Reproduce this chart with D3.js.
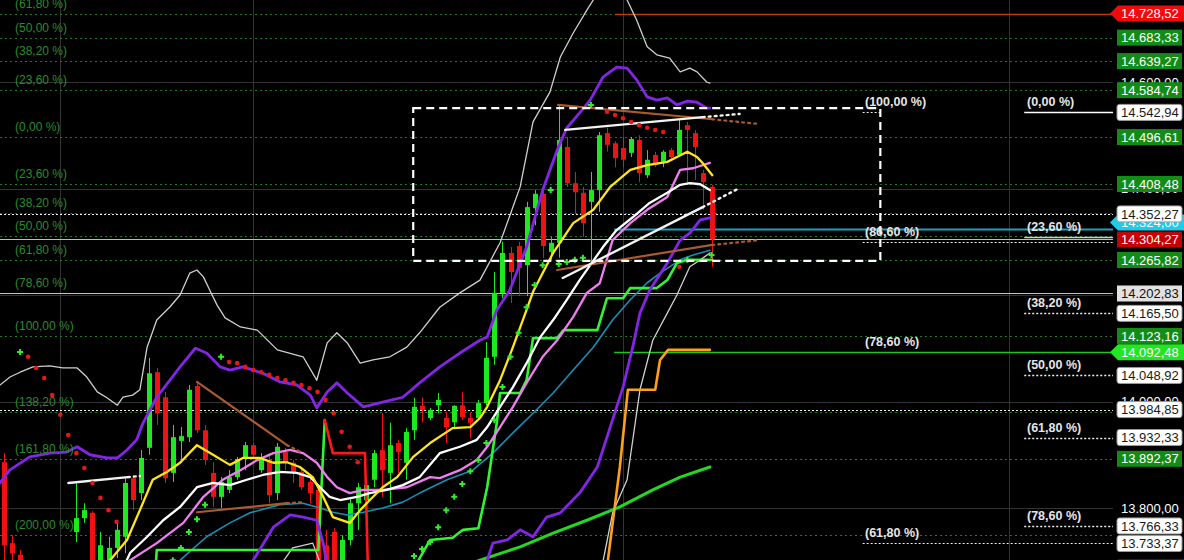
<!DOCTYPE html>
<html><head><meta charset="utf-8">
<script src="https://cdn.jsdelivr.net/npm/d3@7"></script>
<style>html,body{margin:0;padding:0;background:#000;overflow:hidden}svg{display:block}text{font-family:"Liberation Sans",Arial,sans-serif}</style>
</head><body><svg id="c" width="1184" height="560"></svg>
<script>
// ---------- DATA ----------
const opens  = [13886,13734,13712,13655,13627,13605,13618,13631,13646,13755,13781,13791,13684,13674,13725,13746,13856,13828,13913,14055,14008,13866,13926,13933,14029,13946,13866,13821,13834,13858,13894,13918,13871,13890,13828,13905,13885,13868,13849,13834,13730,13755,13627,13740,13809,13815,13853,13909,13866,13922,13885,13946,13992,13969,13993,13969,13961,13993,13969,13969,13997,14084,14204,14279,14292,14256,14363,14390,14281,14298,14478,14410,14392,14375,14397,14504,14485,14476,14467,14491,14425,14463,14450,14472,14463,14519,14504,14429,14403];
const highs  = [13903,13749,13721,13674,13646,13627,13637,13655,13702,13847,13809,13794,13755,13746,13777,13856,13862,13909,14082,14063,14018,13956,13952,14031,14035,13956,13886,13858,13871,13896,13924,13922,13903,13903,13922,13913,13890,13875,13856,13839,13759,13762,13749,13819,13847,13856,13909,13978,13960,13928,13950,14007,14007,13988,14016,13980,13993,14018,13980,14003,14112,14243,14300,14290,14300,14375,14397,14397,14309,14557,14497,14431,14403,14431,14506,14514,14489,14497,14497,14500,14472,14469,14472,14476,14529,14525,14510,14435,14407];
const lows   = [13693,13693,13646,13608,13580,13571,13580,13599,13627,13736,13772,13665,13674,13665,13706,13715,13796,13815,13900,13956,13847,13849,13885,13924,13941,13881,13802,13800,13828,13853,13871,13896,13866,13809,13815,13871,13847,13834,13809,13627,13608,13627,13608,13730,13759,13796,13839,13821,13809,13866,13853,13928,13961,13965,13978,13922,13952,13965,13931,13965,13993,14069,14194,14185,14198,14198,14331,14270,14266,14270,14403,14354,14309,14262,14356,14469,14440,14440,14459,14412,14420,14440,14440,14454,14459,14407,14416,14360,14253];
const closes = [13730,13715,13674,13627,13599,13618,13627,13646,13684,13781,13796,13684,13730,13725,13759,13847,13815,13894,14053,13978,13856,13933,13935,14022,13946,13890,13821,13849,13858,13892,13918,13900,13894,13824,13915,13885,13866,13839,13828,13665,13627,13665,13740,13809,13839,13843,13903,13871,13918,13905,13943,13990,13984,13984,14003,13952,13992,13971,13960,13997,14082,14204,14279,14243,14251,14365,14390,14292,14298,14491,14410,14393,14335,14397,14500,14482,14457,14454,14493,14429,14454,14444,14469,14459,14510,14510,14478,14412,14304.27];

// indicator lines: [bar index, price]
const bbUpper2 = [[-0.5,14031],[0.75,14046],[2,14055],[3.6,14065],[5.7,14067],[7.3,14063],[9.1,14063],[10.3,14046],[11.6,14018],[12.8,14007],[14.1,13993],[14.8,14008],[16,14012],[16.9,14022],[17.8,14102],[19,14153],[20.6,14177],[21.9,14200],[23.1,14241],[24,14247],[24.8,14234],[25.6,14209],[26.5,14181],[27.5,14157],[29.4,14140],[31.5,14134],[34,14097],[37.2,14084],[38.9,14040],[40.2,14110],[41.4,14129],[42.7,14110],[44.3,14072],[45.9,14078],[48,14084],[50.1,14102],[51.7,14129],[54.2,14177],[56.7,14204],[59.2,14228],[61.7,14298],[64.2,14403],[65.8,14525],[67.9,14581],[69.2,14647],[70.8,14692],[72.5,14735],[73.3,14754],[74.1,14782],[76.6,14782],[77.5,14754],[78.7,14716],[80,14666],[81.2,14651],[82.8,14645],[84.1,14619],[85.3,14626],[86.2,14619],[87.4,14600],[87.8,14598]];
const bbLower2a = [[33.1,13665],[35.9,13725],[38.4,13734],[39.9,13674]];
const bbLower2b = [[73.8,13646],[75.7,13791],[77.5,13853],[79.1,14022],[80.7,14115],[82.5,14166],[83.7,14200],[85.3,14253],[86.6,14266],[87.8,14279]];
const bbUpper1 = [[-0.5,13847],[0.7,13871],[3.2,13896],[5.7,13903],[7.8,13905],[9.1,13915],[10.7,13900],[12.8,13894],[14.1,13894],[15.3,13909],[16.5,13928],[17.3,13960],[19,14008],[21.9,14065],[23.8,14100],[25.2,14091],[26.9,14065],[28.1,14059],[29.7,14065],[32.2,14053],[34.3,14037],[36.4,14031],[38.1,14012],[38.9,13988],[40.2,14018],[41.4,14035],[42.7,14016],[44.7,13990],[47.1,13999],[49.6,14008],[51.7,14035],[54.2,14065],[56.7,14091],[59.2,14115],[60.1,14121],[61.3,14172],[62.9,14209],[65,14290],[67,14397],[68.8,14472],[70,14514],[71.6,14542],[72.9,14566],[74.5,14609],[76.2,14628],[77.5,14626],[78.7,14604],[80,14572],[81.2,14566],[82.5,14570],[83.7,14557],[85,14564],[86.2,14562],[87.4,14551],[87.8,14551]];
const bbLower1a = [[30,13665],[31,13702],[33.5,13764],[35.6,13787],[37.2,13783],[38.9,13777],[39.7,13734],[40.5,13665]];
const bbLower1b = [[59.2,13674],[60.1,13702],[60.8,13734],[62.6,13740],[64.2,13759],[65.8,13746],[67.5,13783],[69.2,13791],[71.6,13828],[73.8,13877],[75.4,13952],[77,14027],[78.2,14102],[79.1,14166],[80.3,14209],[82.5,14260],[84.1,14303],[85.3,14316],[86.6,14341],[87.8,14345]];
const maYellow = [[13.2,13702],[15.3,13740],[16.9,13796],[18.5,13853],[20.3,13868],[21.9,13885],[24,13918],[26,13900],[28.1,13881],[29.7,13894],[31.8,13894],[33.5,13885],[35.2,13886],[36.8,13877],[38.4,13858],[39.7,13821],[40.9,13783],[43,13772],[44.3,13796],[45.5,13815],[47.1,13839],[48.9,13858],[50.9,13896],[53,13922],[55.8,13950],[58,13952],[59.2,13969],[60.1,13990],[61.7,14040],[63.3,14102],[65,14172],[65.8,14206],[68.3,14279],[70.8,14335],[73.3,14360],[75.4,14403],[77.9,14435],[80,14444],[82.5,14450],[83.7,14459],[85,14469],[86.2,14459],[86.9,14448],[88.1,14425]];
const maWhite = [[14.4,13674],[15.7,13716],[17.8,13746],[19.8,13777],[21.9,13802],[24,13839],[26,13847],[28.1,13843],[30.2,13853],[32.2,13862],[34.3,13868],[36.4,13866],[38.1,13858],[39.3,13839],[40.5,13821],[41.8,13815],[43.9,13821],[45.5,13828],[47.6,13834],[49.6,13843],[51.7,13858],[54.2,13903],[56.7,13915],[58.8,13928],[60.1,13952],[61.7,13990],[63.3,14027],[65,14072],[66.7,14121],[68.3,14153],[70,14191],[71.6,14228],[74.5,14290],[76.2,14322],[78.2,14346],[80.3,14373],[82.5,14392],[84.1,14407],[85.3,14410],[86.6,14408],[87.8,14397]];
const maPink = [[15.7,13702],[19,13734],[22.3,13772],[24.8,13821],[27.2,13853],[29.4,13871],[31.5,13890],[33.5,13903],[35.6,13909],[37.2,13903],[38.9,13885],[40.2,13858],[41.4,13839],[43,13828],[44.7,13834],[47.1,13834],[50.1,13839],[53,13858],[54.2,13856],[56.7,13871],[58.8,13890],[60.1,13915],[61.7,13952],[63.3,13990],[65,14035],[67,14084],[68.8,14115],[70.8,14159],[72.5,14204],[74.1,14222],[75.7,14303],[77.9,14335],[80,14360],[82.5,14384],[84.1,14435],[85.7,14438],[87.8,14448]];
const maTeal = [[20.6,13674],[21.9,13702],[25.2,13746],[28.1,13772],[30.6,13791],[34.3,13806],[37.2,13809],[39.3,13800],[40.9,13792],[42.7,13787],[44.7,13792],[47.1,13800],[49.6,13811],[51.7,13828],[55.1,13853],[58.3,13871],[60.8,13903],[63.3,13941],[65.8,13978],[68.3,14016],[70.8,14059],[73.3,14102],[75.7,14153],[77.9,14191],[80,14223],[81.6,14241],[84.1,14266],[85.7,14275],[87.8,14284]];
const maLongGreen = [[54.2,13674],[59.2,13702],[64.2,13727],[68.3,13753],[72.5,13777],[76.6,13802],[80.7,13834],[84.1,13858],[87.8,13877]];
const stopGreenA = [[18.8,13674],[19,13721],[39.1,13721],[39.9,13965]];
const stopRed = [[39.9,13965],[40.9,13903],[44.9,13903],[45.3,13665]];
const stopGreenB = [[50.5,13665],[51.7,13706],[53,13740],[55.8,13744],[57.1,13759],[59,13762],[60.1,13839],[61.3,13960],[61.7,14016],[64.2,14016],[65,14040],[65.8,14119],[68.8,14119],[69.6,14134],[73.8,14134],[75,14194],[77,14194],[77.9,14213],[81.2,14213],[82.5,14228],[83.7,14260],[85,14266],[88.1,14266]];
const stopOrange = [[74.8,13665],[76.6,13877],[77.6,14022],[81,14022],[81.6,14078],[82.6,14097],[87.8,14097]];

// trend lines: solid part and dotted extension
const trendBrown = [
  {solid:[[24,14037],[35.2,13918]], dot:[[35.2,13918],[37.2,13903]]},
  {solid:[[24,13792],[35.2,13809]], dot:[[35.2,13809],[37.2,13811]]},
  {solid:[[68.9,14557],[88.1,14530]], dot:[[88.1,14530],[94,14521]]},
  {solid:[[68.8,14247],[88.1,14294]], dot:[[88.1,14294],[94,14303]]}
];
const trendWhite = [
  {solid:[[8,13847],[15.4,13858]], dot:[[15.4,13858],[16.9,13860]]},
  {solid:[[69.8,14510],[86.9,14534]], dot:[[86.9,14534],[91.5,14540]]},
  {solid:[[69.5,14232],[86.9,14365]], dot:[[86.9,14365],[91.5,14401]]}
];

// parabolic SAR dots
const sarRed = [[3,14084],[4,14063],[5,14044],[6,14012],[7,13975],[8,13937],[9,13903],[10,13875],[11,13847],[12,13819],[13,13796],[14,13774],
  [28,14074],[29,14072],[30,14065],[31,14059],[32,14055],[33,14050],[34,14044],[35,14040],[36,14035],[37,14031],[38,14025],[39,14018],[40,14003],[41,13978],[42,13943],[43,13915],[44,13886],
  [75,14544],[76,14538],[77,14532],[78,14525],[79,14519],[80,14514],[81,14510],[82,14506],[84,14253]];
const sarGreen = [[2,14093],[21,13702],[22,13725],[23,13755],[24,13779],[25,13806],[27,14084],
  [51,13710],[52,13723],[53,13736],[54,13764],[55,13796],[56,13821],[57,13845],[58,13869],[59,13890],[60,13922],[61,13965],[62,14027],[63,14084],[64,14129],[65,14177],[66,14219],[67,14256],[68,14397],
  [69,14258],[70,14262],[71,14266],[72,14270],[73,14557],[85,14266],[88,14275]];

// Fibonacci levels
const leftFibLabels = ["(61,80 %)","(50,00 %)","(38,20 %)","(23,60 %)","(0,00 %)","(23,60 %)","(38,20 %)","(50,00 %)","(61,80 %)","(78,60 %)","(100,00 %)","(138,20 %)","(161,80 %)","(200,00 %)"];
const leftFibPrices = [14727.4,14683.33,14639.27,14584.74,14496.61,14408.48,14353.96,14310.0,14265.82,14203.1,14123.16,13980.5,13892.37,13749.8];
const midFibLabels = ["(100,00 %)","(86,60 %)","(78,60 %)","(61,80 %)"];
const midFibPrices = [14542.94,14300,14092.48,13733.37];
const rightFibLabels = ["(0,00 %)","(23,60 %)","(38,20 %)","(50,00 %)","(61,80 %)","(78,60 %)"];
const rightFibPrices = [14542.94,14309.7,14165.50,14048.92,13932.33,13766.33];

const gridPrices = [14600,14400,14200,14000,13800];
const gridIdx = [7,31,77,125];
const boxIdx = [50.9,109];
const boxPrices = [14551,14264];

// right price labels (drawn in this order; plain texts first)
const axisPrices = [14728.52,14683.33,14639.27,14600,14584.74,14542.94,14496.61,14400,14408.48,14336,14352.27,14304.27,14265.82,14202.83,14165.50,14123.16,14092.48,14048.92,14000,13984.85,13932.33,13892.37,13800,13766.33,13733.37,13688];
const axisTexts  = ["14.728,52","14.683,33","14.639,27","14.600,00","14.584,74","14.542,94","14.496,61","14.400,00","14.408,48","14.324,00","14.352,27","14.304,27","14.265,82","14.202,83","14.165,50","14.123,16","14.092,48","14.048,92","14.000,00","13.984,85","13.932,33","13.892,37","13.800,00","13.766,33","13.733,37","13.688,00"];
const axisKinds  = ["redArrow","green","green","plain","green","white","green","plain","green","cyanArrow","white","red","green","gray","white","green","limeArrow","white","plain","white","white","green","plain","white","white","limeArrow"];

// ---------- DRAW ----------
const W=1184,H=560,plotR=1113;
const svg=d3.select('#c');
const x=d3.scaleLinear().domain([0,88]).range([4,711.5]);
const y=d3.scaleLinear().domain([13800,14600]).range([508,82]);

svg.append('rect').attr('width',W).attr('height',H).attr('fill','#000');
svg.append('defs').append('clipPath').attr('id','clip').append('rect').attr('x',0).attr('y',0).attr('width',plotR).attr('height',H);
const g=svg.append('g').attr('clip-path','url(#clip)');

function hline(p,x0,x1,color,w,dash){
  g.append('line').attr('x1',x0).attr('x2',x1).attr('y1',Math.round(y(p))+0.5).attr('y2',Math.round(y(p))+0.5)
   .attr('stroke',color).attr('stroke-width',w).attr('stroke-dasharray',dash||null);
}
// grid
gridPrices.forEach(p=>hline(p,0,plotR,'#333',1));
gridIdx.forEach(i=>g.append('line').attr('x1',Math.round(x(i))+0.5).attr('x2',Math.round(x(i))+0.5).attr('y1',0).attr('y2',H).attr('stroke','#333').attr('stroke-width',1));

// left fib green dotted
leftFibPrices.forEach(p=>hline(p,0,plotR,'#1f7a1f',1,'2,3'));
// special full-width lines
hline(14352.27,0,plotR,'#f0f0f0',1.2,'2,2');
hline(14304.27,0,plotR,'#bdbdbd',1.2);
hline(14202.83,0,plotR,'#b8ccb8',1.2);
hline(13984.85,0,plotR,'#f0f0f0',1.2,'2,2');
// middle fib
midFibPrices.forEach((p,k)=>hline(p,x(106.8),k===0?x(109.1):plotR,'#f0f0f0',1.2,'2,2'));
// right fib
rightFibPrices.forEach((p,k)=>hline(p,x(126.9),plotR,k===0?'#ffffff':(k===1?'#cfcfcf':'#f0f0f0'),1.3,k<2?null:'2,2'));
// horizontal markers
hline(14728.52,x(76),plotR,'#b8400f',1.5);
hline(14324,x(75.9),plotR,'#1aa3c4',2);
hline(14092.48,x(75.9),plotR,'#22c422',1.6);

// candles
const bars=d3.range(opens.length).map(i=>({i,o:opens[i],h:highs[i],l:lows[i],c:closes[i]}));
const cg=g.append('g');
bars.forEach(b=>{
  const col=b.c>=b.o?'#1ee81e':'#ee1212';
  const cx=Math.round(x(b.i))+0.5;
  cg.append('line').attr('x1',cx).attr('x2',cx).attr('y1',y(b.h)).attr('y2',y(b.l)).attr('stroke',col).attr('stroke-width',1);
  const top=y(Math.max(b.o,b.c)),bot=y(Math.min(b.o,b.c));
  cg.append('rect').attr('x',cx-2.5).attr('y',top).attr('width',5).attr('height',Math.max(1,bot-top)).attr('fill',col);
});

const line=d3.line().x(d=>x(d[0])).y(d=>y(d[1]));
function path(data,color,w,dash,op){
  g.append('path').datum(data).attr('d',line).attr('fill','none').attr('stroke',color).attr('stroke-width',w)
   .attr('stroke-linejoin','round').attr('stroke-linecap','round').attr('stroke-dasharray',dash||null).attr('opacity',op||1);
}
path(bbUpper2,'#cfcfcf',1.3);
path(bbLower2a,'#cfcfcf',1.3);
path(bbLower2b,'#cfcfcf',1.3);
path(maTeal,'#1c8db3',1.6);
path(maLongGreen,'#22d822',3);
path(stopGreenA,'#33f433',2.6);
path(stopRed,'#ff1818',2.6);
path(stopGreenB,'#33f433',2.6);
path(stopOrange,'#ffa01c',2.6);
path(bbUpper1,'#8425e6',2.8);
path(bbLower1a,'#8425e6',2.8);
path(bbLower1b,'#8425e6',2.8);
path(maPink,'#f07ef0',2.3);
path(maWhite,'#ffffff',2.3);
path(maYellow,'#ffe619',2.3);
trendBrown.forEach(t=>{path(t.solid,'#a85a30',2.2);path(t.dot,'#a85a30',2.2,'2,4');});
trendWhite.forEach(t=>{path(t.solid,'#f2f2f2',2.4);path(t.dot,'#f2f2f2',2.4,'2,4');});

// SAR
sarRed.forEach(d=>g.append('circle').attr('cx',x(d[0])).attr('cy',y(d[1])).attr('r',2.3).attr('fill','#e81616'));
const cross=d3.symbol().type(d3.symbolCross).size(20);
sarGreen.forEach(d=>g.append('path').attr('d',cross).attr('transform',`translate(${x(d[0])},${y(d[1])})`).attr('fill','#2af02a'));

// dashed box
g.append('rect').attr('x',x(boxIdx[0])).attr('y',y(boxPrices[0])).attr('width',x(boxIdx[1])-x(boxIdx[0])).attr('height',y(boxPrices[1])-y(boxPrices[0]))
 .attr('fill','none').attr('stroke','#ffffff').attr('stroke-width',2.2).attr('stroke-dasharray','8,5');

// fib labels
leftFibPrices.forEach((p,k)=>g.append('text').attr('x',15).attr('y',y(p)-6).attr('fill','#2a8c2a').attr('font-size',12).text(leftFibLabels[k]));
midFibPrices.forEach((p,k)=>g.append('text').attr('x',865).attr('y',y(p)-6).attr('fill','#e6e6e6').attr('font-size',12.5).attr('font-weight','bold').text(midFibLabels[k]));
rightFibPrices.forEach((p,k)=>g.append('text').attr('x',1027).attr('y',y(p)-6).attr('fill','#e6e6e6').attr('font-size',12.5).attr('font-weight','bold').text(rightFibLabels[k]));

// axis labels
const ax=svg.append('g');
const order=d3.range(axisPrices.length).sort((a,b)=>((axisKinds[a]==='plain'?0:1)-(axisKinds[b]==='plain'?0:1))||(a-b));
order.forEach(k=>{
  const p=axisPrices[k],kind=axisKinds[k],yc=y(p),t=axisTexts[k];
  let fill,tc='#fff';
  if(kind==='plain'){ax.append('text').attr('x',1121).attr('y',yc).attr('dy','0.36em').attr('fill','#fff').attr('font-size',13).text(t);return;}
  if(kind.endsWith('Arrow')){
    fill=kind==='redArrow'?'#f20a0a':(kind==='cyanArrow'?'#1ecbe8':'#22e622');
    ax.append('path').attr('d',`M1110,${yc} L1118,${yc-8} L1184,${yc-8} L1184,${yc+8} L1118,${yc+8} Z`).attr('fill',fill);
  } else {
    let stroke=null;
    if(kind==='green')fill='#138c17';
    if(kind==='red')fill='#c40000';
    if(kind==='white'){fill='#ffffff';tc='#1a1a1a';stroke='#9a9a9a';}
    if(kind==='gray'){fill='#e2e2e2';tc='#111';}
    ax.append('rect').attr('x',1117).attr('y',yc-8).attr('width',65).attr('height',16).attr('rx',kind==='white'?2.5:0)
      .attr('fill',fill).attr('stroke',stroke);
  }
  ax.append('text').attr('x',1121).attr('y',yc).attr('dy','0.36em').attr('fill',tc).attr('font-size',13).text(t);
});
</script></body></html>
